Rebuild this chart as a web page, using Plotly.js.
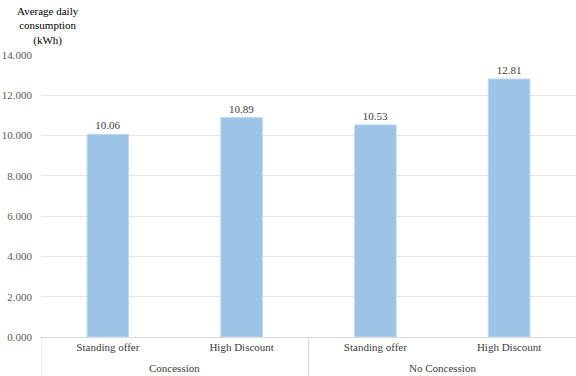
<!DOCTYPE html>
<html>
<head>
<meta charset="utf-8">
<script src="https://cdn.plot.ly/plotly-3.0.1.min.js"></script>
<style>html,body{margin:0;padding:0;background:#fff}#chart{width:576px;height:376px}</style>
</head>
<body>
<div id="chart"></div>
<script>
var offers = ["Standing offer", "High Discount", "Standing offer", "High Discount"];
var groups = ["Concession", "No Concession"];
var consumption = [10.06, 10.89, 10.53, 12.81];
var yTicks = [0, 2, 4, 6, 8, 10, 12, 14];
var yTickLabels = ["0.000", "2.000", "4.000", "6.000", "8.000", "10.000", "12.000", "14.000"];

var xIdx = offers.map(function(_, i){ return i; });
var serifFamily = "Liberation Serif";

var trace = {
  type: "bar",
  x: xIdx,
  y: consumption,
  marker: {color: "#9DC3E6", line: {color: "#BDD7EE", width: 1}},
  text: consumption.map(function(v){ return v.toFixed(2); }),
  textposition: "outside",
  cliponaxis: false,
  textfont: {family: serifFamily, size: 11, color: "#404040"},
  hoverinfo: "none"
};

var annotations = [{
  text: "Average daily<br>consumption<br>(kWh)",
  xref: "paper", yref: "paper", x: 0.013, y: 1.022, xanchor: "center", yanchor: "bottom",
  showarrow: false, align: "center",
  font: {family: serifFamily, size: 11, color: "#000"}
}];
groups.forEach(function(g, gi){
  annotations.push({
    text: g, xref: "x", yref: "paper", x: gi * 2 + 0.5, y: -0.11, yanchor: "middle",
    showarrow: false, font: {family: serifFamily, size: 11, color: "#404040"}
  });
});
var shapes = [];
[-0.5, 1.5].forEach(function(xv){
  shapes.push({type: "line", xref: "x", yref: "paper", x0: xv, x1: xv, y0: 0, y1: -0.14,
    line: {color: "#D9D9D9", width: 1}});
});

var layout = {
  width: 576, height: 376,
  margin: {l: 41, r: 0, t: 55, b: 39},
  paper_bgcolor: "#fff", plot_bgcolor: "#fff",
  bargap: 0.69,
  showlegend: false,
  xaxis: {
    type: "linear", range: [-0.5, 3.5],
    tickvals: xIdx, ticktext: offers,
    showgrid: false, zeroline: false,
    showline: true, linecolor: "#D9D9D9", linewidth: 1,
    ticks: "", ticklen: 0,
    tickfont: {family: serifFamily, size: 11, color: "#404040"}
  },
  yaxis: {
    range: [0, 14],
    tickvals: yTicks, ticktext: yTickLabels,
    showgrid: true, gridcolor: "#E6E6E6", gridwidth: 1,
    zeroline: false, showline: false, ticks: "",
    ticklabelstandoff: 8,
    tickfont: {family: serifFamily, size: 11, color: "#595959"}
  },
  annotations: annotations,
  shapes: shapes
};

Plotly.newPlot("chart", [trace], layout, {staticPlot: true, displayModeBar: false});
</script>
</body>
</html>
